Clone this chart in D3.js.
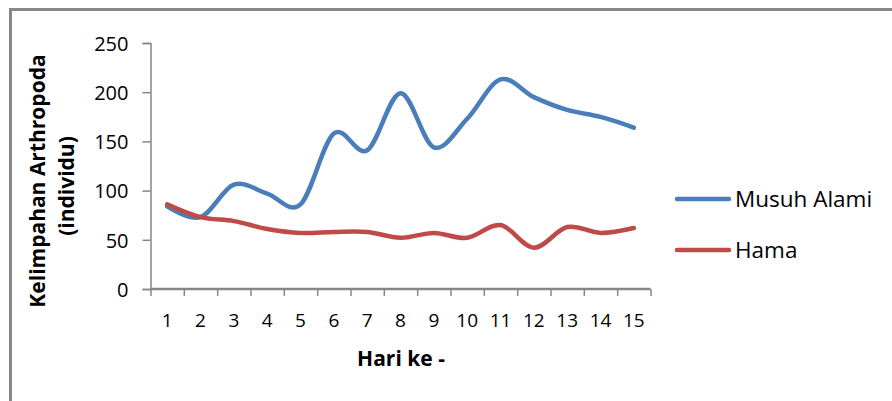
<!DOCTYPE html>
<html>
<head>
<meta charset="utf-8">
<script src="https://cdn.jsdelivr.net/npm/d3@7"></script>
<style>
  html, body { margin: 0; padding: 0; background: #fff; }
  svg { display: block; font-family: "Open Sans", "Noto Sans", sans-serif; }
</style>
</head>
<body>
<svg id="chart" width="892" height="401"></svg>
<script>
// Daily arthropod counts
const days = ["1","2","3","4","5","6","7","8","9","10","11","12","13","14","15"];
const musuhAlami = [84, 73, 106, 97, 86, 158, 141, 199, 144, 173, 213, 195, 182, 175, 164];
const hama = [86, 73, 69, 61, 57, 58, 58, 52, 57, 52, 65, 42, 63, 57, 62];
const yTicks = [0, 50, 100, 150, 200, 250];
const seriesNames = ["Musuh Alami", "Hama"];
const seriesColors = ["#4A7EBB", "#BE4B48"];

const svg = d3.select("#chart");
const axisColor = "#868686";

// outer chart frame (extends past the right and bottom edges)
svg.append("rect")
  .attr("x", 10.5).attr("y", 9.5)
  .attr("width", 1000).attr("height", 1000)
  .attr("fill", "none").attr("stroke", "#878787").attr("stroke-width", 3);

const plot = { left: 150.5, right: 650.5, top: 43, bottom: 289 };

const x = d3.scaleBand().domain(days).range([plot.left, plot.right]).padding(0);
const xEdge = d3.scaleLinear().domain([0, days.length]).range([plot.left, plot.right]);
const y = d3.scaleLinear().domain([0, 250]).range([plot.bottom, plot.top]);
const cx = d => x(d) + x.bandwidth() / 2;

// y axis
const yAxis = svg.append("g")
  .attr("transform", `translate(${plot.left},0)`)
  .call(d3.axisLeft(y).tickValues(yTicks).tickSize(8).tickPadding(14));
yAxis.select(".domain").attr("stroke", axisColor).attr("stroke-width", 1.5);
yAxis.selectAll(".tick line").attr("stroke", axisColor).attr("stroke-width", 1.5);
yAxis.selectAll(".tick text")
  .attr("font-size", 20).attr("fill", "#000").attr("font-family", "Open Sans")
  .attr("dy", "0.36em");

// x axis: tick marks between categories
const xTickAxis = svg.append("g")
  .attr("transform", `translate(0,${plot.bottom})`)
  .call(d3.axisBottom(xEdge).tickValues(d3.range(0, days.length + 1)).tickSize(7).tickFormat(""));
xTickAxis.select(".domain").attr("stroke", axisColor).attr("stroke-width", 2.5)
  .attr("d", `M${plot.left},0H${plot.right}`);
xTickAxis.selectAll(".tick line").attr("stroke", axisColor).attr("stroke-width", 1.5);

// x axis: category labels
const xLabelAxis = svg.append("g")
  .attr("transform", `translate(0,${plot.bottom})`)
  .call(d3.axisBottom(x).tickSize(0));
xLabelAxis.select(".domain").remove();
xLabelAxis.selectAll(".tick text")
  .attr("y", 38).attr("dy", 0)
  .attr("font-size", 19).attr("fill", "#000").attr("font-family", "Open Sans");

// axis titles
svg.append("text")
  .attr("x", 401).attr("y", 366)
  .attr("text-anchor", "middle")
  .attr("font-size", 21).attr("font-weight", "bold").attr("fill", "#000")
  .text("Hari ke -");

const yTitle = svg.append("g");
yTitle.append("text")
  .attr("transform", "translate(45,181) rotate(-90)")
  .attr("text-anchor", "middle")
  .attr("font-size", 21).attr("font-weight", "bold").attr("fill", "#000")
  .text("Kelimpahan Arthropoda");
yTitle.append("text")
  .attr("transform", "translate(74,186) rotate(-90)")
  .attr("text-anchor", "middle")
  .attr("font-size", 21).attr("font-weight", "bold").attr("fill", "#000")
  .text("(individu)");

// smoothed series lines
const line = d3.line()
  .x((d, i) => cx(days[i]))
  .y(d => y(d))
  .curve(d3.curveCatmullRom.alpha(0));

[musuhAlami, hama].forEach((vals, k) => {
  svg.append("path")
    .datum(vals)
    .attr("d", line)
    .attr("fill", "none")
    .attr("stroke", seriesColors[k])
    .attr("stroke-width", 4.5)
    .attr("stroke-linejoin", "round")
    .attr("stroke-linecap", "round");
});

// legend
const legend = svg.append("g");
seriesNames.forEach((name, k) => {
  const ly = 199 + k * 51;
  legend.append("line")
    .attr("x1", 677).attr("x2", 729)
    .attr("y1", ly).attr("y2", ly)
    .attr("stroke", seriesColors[k]).attr("stroke-width", 4.5)
    .attr("stroke-linecap", "round");
  legend.append("text")
    .attr("x", 735).attr("y", ly + 8)
    .attr("font-size", 22.5).attr("fill", "#000")
    .text(name);
});
</script>
</body>
</html>
